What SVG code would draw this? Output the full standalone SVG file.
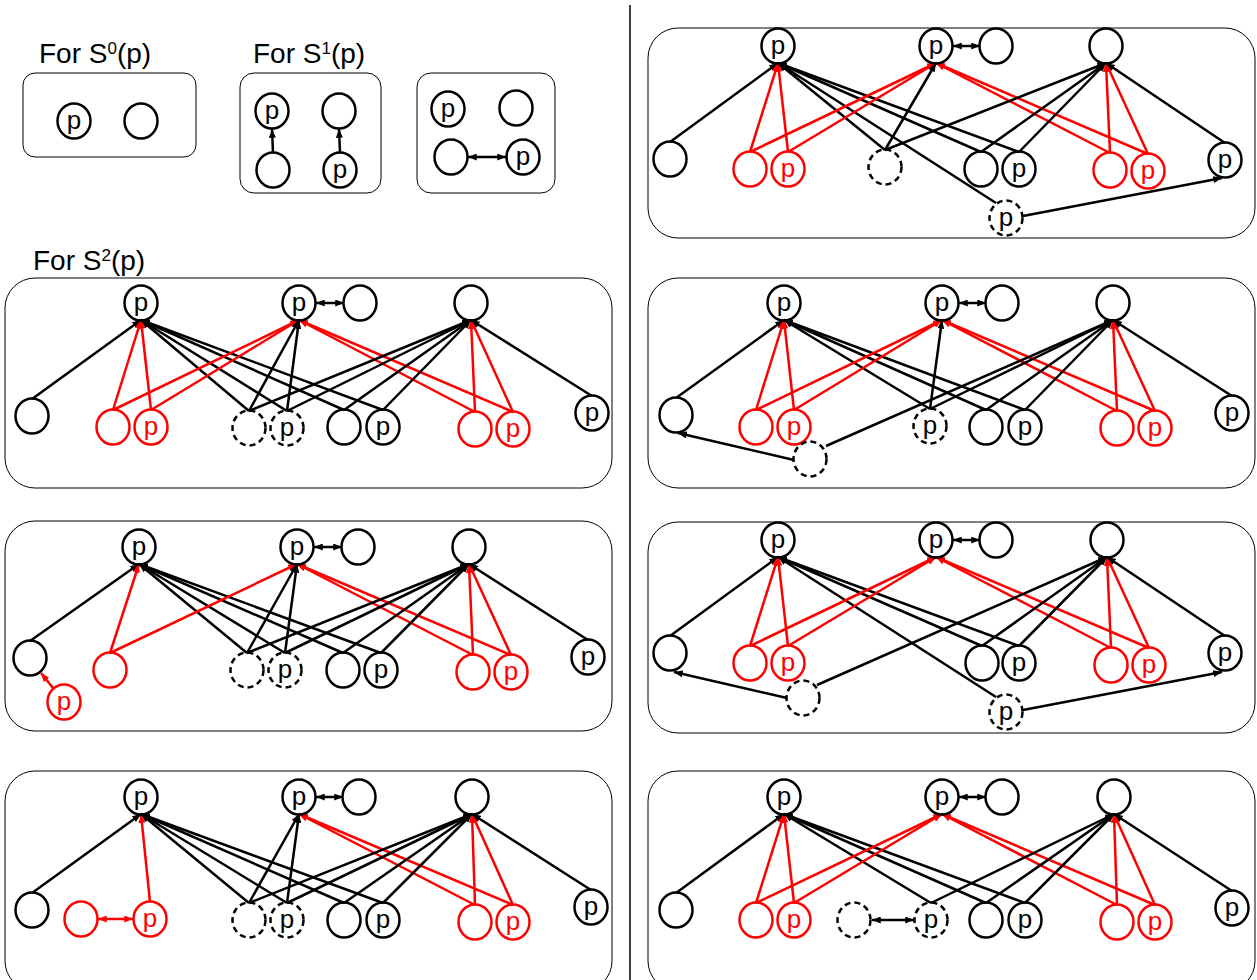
<svg xmlns="http://www.w3.org/2000/svg" width="1257" height="980" viewBox="0 0 1257 980">
<defs>
<marker id="ab" viewBox="0 0 10 8" refX="10" refY="4" markerWidth="9" markerHeight="7" markerUnits="userSpaceOnUse" orient="auto-start-reverse"><path d="M0,0L10,4L0,8z" fill="#000"/></marker>
<marker id="ar" viewBox="0 0 10 8" refX="10" refY="4" markerWidth="9" markerHeight="7" markerUnits="userSpaceOnUse" orient="auto-start-reverse"><path d="M0,0L10,4L0,8z" fill="#f00"/></marker>
</defs>
<style>
.bx{fill:none;stroke:#000;stroke-width:1}
.n{fill:none;stroke:#000;stroke-width:2.5}
.n.r{stroke:#f00}
.n.d{stroke-dasharray:6 4}
.t{font-family:"Liberation Sans",Arial,sans-serif;font-size:26px;text-anchor:middle;fill:#000}
.t.r{fill:#f00}
.h{font-family:"Liberation Sans",Arial,sans-serif;font-size:28px;fill:#000}
.e{stroke:#000;stroke-width:2.5;fill:none;marker-end:url(#ab)}
.e.r{stroke:#f00;marker-end:url(#ar)}
.dbl{marker-start:url(#ab)}
.e.r.dbl{marker-start:url(#ar)}
</style>
<rect width="1257" height="980" fill="#fff"/>
<line x1="630" y1="5" x2="630" y2="980" stroke="#000" stroke-width="1.5"/>

<!-- headings -->
<text class="h" x="39" y="63">For S<tspan font-size="17" dy="-9">0</tspan><tspan dy="9">(p)</tspan></text>
<text class="h" x="253" y="63">For S<tspan font-size="17" dy="-9">1</tspan><tspan dy="9">(p)</tspan></text>
<text class="h" x="33" y="270">For S<tspan font-size="17" dy="-9">2</tspan><tspan dy="9">(p)</tspan></text>

<!-- S0 box -->
<g id="s0">
<rect class="bx" x="23" y="73" width="173" height="84" rx="12"/>
<ellipse class="n" cx="74" cy="121" rx="16.5" ry="17.5"/><text class="t" x="74" y="129">p</text>
<ellipse class="n" cx="141" cy="121" rx="16.5" ry="17.5"/>
</g>

<!-- S1 boxes -->
<g id="s1a">
<rect class="bx" x="240" y="73" width="141" height="120" rx="14"/>
<ellipse class="n" cx="272" cy="111" rx="16.5" ry="17.5"/><text class="t" x="272" y="119">p</text>
<ellipse class="n" cx="339" cy="111" rx="16.5" ry="17.5"/>
<ellipse class="n" cx="273" cy="170" rx="16.5" ry="17.5"/>
<ellipse class="n" cx="340" cy="170" rx="16.5" ry="17.5"/><text class="t" x="340" y="178">p</text>
<line class="e" x1="273" y1="153" x2="272" y2="129"/>
<line class="e" x1="340" y1="153" x2="339" y2="129"/>
</g>
<g id="s1b">
<rect class="bx" x="417" y="73" width="138" height="120" rx="14"/>
<ellipse class="n" cx="448" cy="109" rx="16.5" ry="17.5"/><text class="t" x="448" y="117">p</text>
<ellipse class="n" cx="516" cy="108" rx="16.5" ry="17.5"/>
<ellipse class="n" cx="451" cy="157" rx="16.5" ry="17.5"/>
<ellipse class="n" cx="523" cy="157" rx="16.5" ry="17.5"/><text class="t" x="523" y="165">p</text>
<line class="e dbl" x1="468" y1="157" x2="506" y2="157"/>
</g>

<!-- S2 panel L1 -->
<g id="l1">
<rect class="bx" x="5" y="278" width="607" height="210" rx="30"/>
<g id="l1-edges">
<line class="e" x1="32" y1="399" x2="141" y2="320"/>
<line class="e r" x1="113" y1="410" x2="141" y2="320"/>
<line class="e r" x1="151" y1="410" x2="141" y2="320"/>
<line class="e" x1="249" y1="411" x2="141" y2="320"/>
<line class="e" x1="287" y1="411" x2="141" y2="320"/>
<line class="e" x1="344" y1="410" x2="141" y2="320"/>
<line class="e" x1="383" y1="410" x2="141" y2="320"/>
<line class="e r" x1="113" y1="410" x2="299" y2="320"/>
<line class="e r" x1="151" y1="410" x2="299" y2="320"/>
<line class="e" x1="249" y1="411" x2="299" y2="320"/>
<line class="e" x1="287" y1="411" x2="299" y2="320"/>
<line class="e r" x1="475" y1="412" x2="299" y2="320"/>
<line class="e r" x1="513" y1="412" x2="299" y2="320"/>
<line class="e" x1="249" y1="411" x2="471" y2="320"/>
<line class="e" x1="287" y1="411" x2="471" y2="320"/>
<line class="e" x1="344" y1="410" x2="471" y2="320"/>
<line class="e" x1="383" y1="410" x2="471" y2="320"/>
<line class="e r" x1="475" y1="412" x2="471" y2="320"/>
<line class="e r" x1="513" y1="412" x2="471" y2="320"/>
<line class="e" x1="592" y1="396" x2="471" y2="320"/>
<line class="e dbl" x1="316" y1="303" x2="344" y2="303"/>
</g>
<ellipse class="n" cx="141" cy="303" rx="16.5" ry="17.5"/><text class="t" x="141" y="311">p</text>
<ellipse class="n" cx="299" cy="303" rx="16.5" ry="17.5"/><text class="t" x="299" y="311">p</text>
<ellipse class="n" cx="360" cy="303" rx="16.5" ry="17.5"/>
<ellipse class="n" cx="471" cy="303" rx="16.5" ry="17.5"/>
<ellipse class="n" cx="32" cy="416" rx="16.5" ry="17.5"/>
<ellipse class="n r" cx="113" cy="427" rx="16.5" ry="17.5"/>
<ellipse class="n r" cx="151" cy="427" rx="16.5" ry="17.5"/><text class="t r" x="151" y="435">p</text>
<ellipse class="n d" cx="249" cy="428" rx="16.5" ry="17.5"/>
<ellipse class="n d" cx="287" cy="428" rx="16.5" ry="17.5"/><text class="t" x="287" y="436">p</text>
<ellipse class="n" cx="344" cy="427" rx="16.5" ry="17.5"/>
<ellipse class="n" cx="383" cy="427" rx="16.5" ry="17.5"/><text class="t" x="383" y="435">p</text>
<ellipse class="n r" cx="475" cy="429" rx="16.5" ry="17.5"/>
<ellipse class="n r" cx="513" cy="429" rx="16.5" ry="17.5"/><text class="t r" x="513" y="437">p</text>
<ellipse class="n" cx="592" cy="413" rx="16.5" ry="17.5"/><text class="t" x="592" y="421">p</text>
</g>

<!-- S2 panel L2 -->
<g id="l2">
<rect class="bx" x="5" y="521" width="607" height="210" rx="30"/>
<g id="l2-edges">
<line class="e" x1="30" y1="641" x2="139" y2="564"/>
<line class="e r" x1="110" y1="653" x2="139" y2="564"/>
<line class="e" x1="247" y1="653" x2="139" y2="564"/>
<line class="e" x1="285" y1="653" x2="139" y2="564"/>
<line class="e" x1="343" y1="653" x2="139" y2="564"/>
<line class="e" x1="381" y1="653" x2="139" y2="564"/>
<line class="e r" x1="110" y1="653" x2="297" y2="564"/>
<line class="e" x1="247" y1="653" x2="297" y2="564"/>
<line class="e" x1="285" y1="653" x2="297" y2="564"/>
<line class="e r" x1="473" y1="655" x2="297" y2="564"/>
<line class="e r" x1="511" y1="655" x2="297" y2="564"/>
<line class="e" x1="247" y1="653" x2="469" y2="564"/>
<line class="e" x1="285" y1="653" x2="469" y2="564"/>
<line class="e" x1="343" y1="653" x2="469" y2="564"/>
<line class="e" x1="381" y1="653" x2="469" y2="564"/>
<line class="e r" x1="473" y1="655" x2="469" y2="564"/>
<line class="e r" x1="511" y1="655" x2="469" y2="564"/>
<line class="e" x1="588" y1="640" x2="469" y2="564"/>
<line class="e r" x1="53" y1="688" x2="41" y2="673"/>
<line class="e dbl" x1="314" y1="547" x2="342" y2="547"/>
</g>
<ellipse class="n" cx="139" cy="547" rx="16.5" ry="17.5"/><text class="t" x="139" y="555">p</text>
<ellipse class="n" cx="297" cy="547" rx="16.5" ry="17.5"/><text class="t" x="297" y="555">p</text>
<ellipse class="n" cx="358" cy="547" rx="16.5" ry="17.5"/>
<ellipse class="n" cx="469" cy="547" rx="16.5" ry="17.5"/>
<ellipse class="n" cx="30" cy="658" rx="16.5" ry="17.5"/>
<ellipse class="n r" cx="110" cy="670" rx="16.5" ry="17.5"/>
<ellipse class="n r" cx="64" cy="702" rx="16.5" ry="17.5"/><text class="t r" x="64" y="710">p</text>
<ellipse class="n d" cx="247" cy="670" rx="16.5" ry="17.5"/>
<ellipse class="n d" cx="285" cy="670" rx="16.5" ry="17.5"/><text class="t" x="285" y="678">p</text>
<ellipse class="n" cx="343" cy="670" rx="16.5" ry="17.5"/>
<ellipse class="n" cx="381" cy="670" rx="16.5" ry="17.5"/><text class="t" x="381" y="678">p</text>
<ellipse class="n r" cx="473" cy="672" rx="16.5" ry="17.5"/>
<ellipse class="n r" cx="511" cy="672" rx="16.5" ry="17.5"/><text class="t r" x="511" y="680">p</text>
<ellipse class="n" cx="588" cy="657" rx="16.5" ry="17.5"/><text class="t" x="588" y="665">p</text>
</g>

<!-- S2 panel L3 -->
<g id="l3">
<rect class="bx" x="5" y="771" width="607" height="220" rx="30"/>
<g id="l3-edges">
<line class="e" x1="32" y1="893" x2="141" y2="814"/>
<line class="e r" x1="150" y1="902" x2="141" y2="814"/>
<line class="e" x1="249" y1="903" x2="141" y2="814"/>
<line class="e" x1="287" y1="903" x2="141" y2="814"/>
<line class="e" x1="344" y1="903" x2="141" y2="814"/>
<line class="e" x1="383" y1="903" x2="141" y2="814"/>
<line class="e" x1="249" y1="903" x2="299" y2="814"/>
<line class="e" x1="287" y1="903" x2="299" y2="814"/>
<line class="e r" x1="475" y1="905" x2="299" y2="814"/>
<line class="e r" x1="513" y1="905" x2="299" y2="814"/>
<line class="e" x1="249" y1="903" x2="472" y2="814"/>
<line class="e" x1="287" y1="903" x2="472" y2="814"/>
<line class="e" x1="344" y1="903" x2="472" y2="814"/>
<line class="e" x1="383" y1="903" x2="472" y2="814"/>
<line class="e r" x1="475" y1="905" x2="472" y2="814"/>
<line class="e r" x1="513" y1="905" x2="472" y2="814"/>
<line class="e" x1="591" y1="890" x2="472" y2="814"/>
<line class="e r dbl" x1="98" y1="919" x2="133" y2="919"/>
<line class="e dbl" x1="316" y1="797" x2="343" y2="797"/>
</g>
<ellipse class="n" cx="141" cy="797" rx="16.5" ry="17.5"/><text class="t" x="141" y="805">p</text>
<ellipse class="n" cx="299" cy="797" rx="16.5" ry="17.5"/><text class="t" x="299" y="805">p</text>
<ellipse class="n" cx="359" cy="797" rx="16.5" ry="17.5"/>
<ellipse class="n" cx="472" cy="797" rx="16.5" ry="17.5"/>
<ellipse class="n" cx="32" cy="910" rx="16.5" ry="17.5"/>
<ellipse class="n r" cx="81" cy="919" rx="16.5" ry="17.5"/>
<ellipse class="n r" cx="150" cy="919" rx="16.5" ry="17.5"/><text class="t r" x="150" y="927">p</text>
<ellipse class="n d" cx="249" cy="920" rx="16.5" ry="17.5"/>
<ellipse class="n d" cx="287" cy="920" rx="16.5" ry="17.5"/><text class="t" x="287" y="928">p</text>
<ellipse class="n" cx="344" cy="920" rx="16.5" ry="17.5"/>
<ellipse class="n" cx="383" cy="920" rx="16.5" ry="17.5"/><text class="t" x="383" y="928">p</text>
<ellipse class="n r" cx="475" cy="922" rx="16.5" ry="17.5"/>
<ellipse class="n r" cx="513" cy="922" rx="16.5" ry="17.5"/><text class="t r" x="513" y="930">p</text>
<ellipse class="n" cx="591" cy="907" rx="16.5" ry="17.5"/><text class="t" x="591" y="915">p</text>
</g>

<!-- panel R1 -->
<g id="r1">
<rect class="bx" x="648" y="28" width="607" height="210" rx="30"/>
<g id="r1-edges">
<line class="e" x1="670" y1="142" x2="778" y2="63"/>
<line class="e r" x1="750" y1="152" x2="778" y2="63"/>
<line class="e r" x1="788" y1="152" x2="778" y2="63"/>
<line class="e" x1="885" y1="150" x2="778" y2="63"/>
<line class="e" x1="981" y1="152" x2="778" y2="63"/>
<line class="e" x1="1019" y1="152" x2="778" y2="63"/>
<line class="e" x1="996" y1="203" x2="778" y2="63"/>
<line class="e r" x1="750" y1="152" x2="936" y2="63"/>
<line class="e r" x1="788" y1="152" x2="936" y2="63"/>
<line class="e" x1="885" y1="150" x2="936" y2="63"/>
<line class="e r" x1="1110" y1="153" x2="936" y2="63"/>
<line class="e r" x1="1148" y1="154" x2="936" y2="63"/>
<line class="e" x1="885" y1="150" x2="1106" y2="63"/>
<line class="e" x1="981" y1="152" x2="1106" y2="63"/>
<line class="e" x1="1019" y1="152" x2="1106" y2="63"/>
<line class="e r" x1="1110" y1="153" x2="1106" y2="63"/>
<line class="e r" x1="1148" y1="154" x2="1106" y2="63"/>
<line class="e" x1="1225" y1="143" x2="1106" y2="63"/>
<line class="e" x1="1023" y1="216" x2="1222" y2="178"/>
<line class="e dbl" x1="953" y1="46" x2="980" y2="46"/>
</g>
<ellipse class="n" cx="778" cy="46" rx="16.5" ry="17.5"/><text class="t" x="778" y="54">p</text>
<ellipse class="n" cx="936" cy="46" rx="16.5" ry="17.5"/><text class="t" x="936" y="54">p</text>
<ellipse class="n" cx="996" cy="46" rx="16.5" ry="17.5"/>
<ellipse class="n" cx="1106" cy="46" rx="16.5" ry="17.5"/>
<ellipse class="n" cx="670" cy="159" rx="16.5" ry="17.5"/>
<ellipse class="n r" cx="750" cy="169" rx="16.5" ry="17.5"/>
<ellipse class="n r" cx="788" cy="169" rx="16.5" ry="17.5"/><text class="t r" x="788" y="177">p</text>
<ellipse class="n d" cx="885" cy="167" rx="16.5" ry="17.5"/>
<ellipse class="n" cx="981" cy="169" rx="16.5" ry="17.5"/>
<ellipse class="n" cx="1019" cy="169" rx="16.5" ry="17.5"/><text class="t" x="1019" y="177">p</text>
<ellipse class="n r" cx="1110" cy="170" rx="16.5" ry="17.5"/>
<ellipse class="n r" cx="1148" cy="171" rx="16.5" ry="17.5"/><text class="t r" x="1148" y="179">p</text>
<ellipse class="n" cx="1225" cy="160" rx="16.5" ry="17.5"/><text class="t" x="1225" y="168">p</text>
<ellipse class="n d" cx="1006" cy="218" rx="16.5" ry="17.5"/><text class="t" x="1006" y="226">p</text>
</g>

<!-- panel R2 -->
<g id="r2">
<rect class="bx" x="648" y="278" width="607" height="210" rx="30"/>
<g id="r2-edges">
<line class="e" x1="676" y1="398" x2="784" y2="320"/>
<line class="e r" x1="756" y1="410" x2="784" y2="320"/>
<line class="e r" x1="794" y1="410" x2="784" y2="320"/>
<line class="e" x1="930" y1="409" x2="784" y2="320"/>
<line class="e" x1="986" y1="410" x2="784" y2="320"/>
<line class="e" x1="1025" y1="410" x2="784" y2="320"/>
<line class="e r" x1="756" y1="410" x2="942" y2="320"/>
<line class="e r" x1="794" y1="410" x2="942" y2="320"/>
<line class="e" x1="930" y1="409" x2="942" y2="320"/>
<line class="e r" x1="1117" y1="411" x2="942" y2="320"/>
<line class="e r" x1="1155" y1="411" x2="942" y2="320"/>
<line class="e" x1="930" y1="409" x2="1113" y2="320"/>
<line class="e" x1="826" y1="446" x2="1113" y2="320"/>
<line class="e" x1="986" y1="410" x2="1113" y2="320"/>
<line class="e" x1="1025" y1="410" x2="1113" y2="320"/>
<line class="e r" x1="1117" y1="411" x2="1113" y2="320"/>
<line class="e r" x1="1155" y1="411" x2="1113" y2="320"/>
<line class="e" x1="1232" y1="396" x2="1113" y2="320"/>
<line class="e" x1="794" y1="460" x2="678" y2="433"/>
<line class="e dbl" x1="959" y1="303" x2="986" y2="303"/>
</g>
<ellipse class="n" cx="784" cy="303" rx="16.5" ry="17.5"/><text class="t" x="784" y="311">p</text>
<ellipse class="n" cx="942" cy="303" rx="16.5" ry="17.5"/><text class="t" x="942" y="311">p</text>
<ellipse class="n" cx="1002" cy="303" rx="16.5" ry="17.5"/>
<ellipse class="n" cx="1113" cy="303" rx="16.5" ry="17.5"/>
<ellipse class="n" cx="676" cy="415" rx="16.5" ry="17.5"/>
<ellipse class="n r" cx="756" cy="427" rx="16.5" ry="17.5"/>
<ellipse class="n r" cx="794" cy="427" rx="16.5" ry="17.5"/><text class="t r" x="794" y="435">p</text>
<ellipse class="n d" cx="930" cy="426" rx="16.5" ry="17.5"/><text class="t" x="930" y="434">p</text>
<ellipse class="n" cx="986" cy="427" rx="16.5" ry="17.5"/>
<ellipse class="n" cx="1025" cy="427" rx="16.5" ry="17.5"/><text class="t" x="1025" y="435">p</text>
<ellipse class="n r" cx="1117" cy="428" rx="16.5" ry="17.5"/>
<ellipse class="n r" cx="1155" cy="428" rx="16.5" ry="17.5"/><text class="t r" x="1155" y="436">p</text>
<ellipse class="n" cx="1232" cy="413" rx="16.5" ry="17.5"/><text class="t" x="1232" y="421">p</text>
<ellipse class="n d" cx="810" cy="459" rx="16.5" ry="17.5"/>
</g>

<!-- panel R3 -->
<g id="r3">
<rect class="bx" x="648" y="522" width="607" height="211" rx="30"/>
<g id="r3-edges">
<line class="e" x1="670" y1="636" x2="778" y2="557"/>
<line class="e r" x1="750" y1="646" x2="778" y2="557"/>
<line class="e r" x1="788" y1="646" x2="778" y2="557"/>
<line class="e" x1="982" y1="646" x2="778" y2="557"/>
<line class="e" x1="1019" y1="646" x2="778" y2="557"/>
<line class="e" x1="996" y1="697" x2="778" y2="557"/>
<line class="e r" x1="750" y1="646" x2="936" y2="557"/>
<line class="e r" x1="788" y1="646" x2="936" y2="557"/>
<line class="e r" x1="1111" y1="648" x2="936" y2="557"/>
<line class="e r" x1="1149" y1="648" x2="936" y2="557"/>
<line class="e" x1="817" y1="685" x2="1107" y2="557"/>
<line class="e" x1="982" y1="646" x2="1107" y2="557"/>
<line class="e" x1="1019" y1="646" x2="1107" y2="557"/>
<line class="e r" x1="1111" y1="648" x2="1107" y2="557"/>
<line class="e r" x1="1149" y1="648" x2="1107" y2="557"/>
<line class="e" x1="1225" y1="636" x2="1107" y2="557"/>
<line class="e" x1="787" y1="698" x2="674" y2="672"/>
<line class="e" x1="1023" y1="710" x2="1222" y2="672"/>
<line class="e dbl" x1="953" y1="540" x2="980" y2="540"/>
</g>
<ellipse class="n" cx="778" cy="540" rx="16.5" ry="17.5"/><text class="t" x="778" y="548">p</text>
<ellipse class="n" cx="936" cy="540" rx="16.5" ry="17.5"/><text class="t" x="936" y="548">p</text>
<ellipse class="n" cx="996" cy="540" rx="16.5" ry="17.5"/>
<ellipse class="n" cx="1107" cy="540" rx="16.5" ry="17.5"/>
<ellipse class="n" cx="670" cy="653" rx="16.5" ry="17.5"/>
<ellipse class="n r" cx="750" cy="663" rx="16.5" ry="17.5"/>
<ellipse class="n r" cx="788" cy="663" rx="16.5" ry="17.5"/><text class="t r" x="788" y="671">p</text>
<ellipse class="n" cx="982" cy="663" rx="16.5" ry="17.5"/>
<ellipse class="n" cx="1019" cy="663" rx="16.5" ry="17.5"/><text class="t" x="1019" y="671">p</text>
<ellipse class="n r" cx="1111" cy="665" rx="16.5" ry="17.5"/>
<ellipse class="n r" cx="1149" cy="665" rx="16.5" ry="17.5"/><text class="t r" x="1149" y="673">p</text>
<ellipse class="n" cx="1225" cy="653" rx="16.5" ry="17.5"/><text class="t" x="1225" y="661">p</text>
<ellipse class="n d" cx="803" cy="698" rx="16.5" ry="17.5"/>
<ellipse class="n d" cx="1006" cy="712" rx="16.5" ry="17.5"/><text class="t" x="1006" y="720">p</text>
</g>

<!-- panel R4 -->
<g id="r4">
<rect class="bx" x="648" y="771" width="607" height="220" rx="30"/>
<g id="r4-edges">
<line class="e" x1="676" y1="893" x2="784" y2="814"/>
<line class="e r" x1="756" y1="903" x2="784" y2="814"/>
<line class="e r" x1="794" y1="903" x2="784" y2="814"/>
<line class="e" x1="931" y1="903" x2="784" y2="814"/>
<line class="e" x1="986" y1="903" x2="784" y2="814"/>
<line class="e" x1="1025" y1="903" x2="784" y2="814"/>
<line class="e r" x1="756" y1="903" x2="942" y2="814"/>
<line class="e r" x1="794" y1="903" x2="942" y2="814"/>
<line class="e r" x1="1117" y1="905" x2="942" y2="814"/>
<line class="e r" x1="1155" y1="905" x2="942" y2="814"/>
<line class="e" x1="931" y1="903" x2="1114" y2="814"/>
<line class="e" x1="986" y1="903" x2="1114" y2="814"/>
<line class="e" x1="1025" y1="903" x2="1114" y2="814"/>
<line class="e r" x1="1117" y1="905" x2="1114" y2="814"/>
<line class="e r" x1="1155" y1="905" x2="1114" y2="814"/>
<line class="e" x1="1232" y1="891" x2="1114" y2="814"/>
<line class="e dbl" x1="872" y1="920" x2="914" y2="920"/>
<line class="e dbl" x1="959" y1="797" x2="986" y2="797"/>
</g>
<ellipse class="n" cx="784" cy="797" rx="16.5" ry="17.5"/><text class="t" x="784" y="805">p</text>
<ellipse class="n" cx="942" cy="797" rx="16.5" ry="17.5"/><text class="t" x="942" y="805">p</text>
<ellipse class="n" cx="1002" cy="797" rx="16.5" ry="17.5"/>
<ellipse class="n" cx="1114" cy="797" rx="16.5" ry="17.5"/>
<ellipse class="n" cx="676" cy="910" rx="16.5" ry="17.5"/>
<ellipse class="n r" cx="756" cy="920" rx="16.5" ry="17.5"/>
<ellipse class="n r" cx="794" cy="920" rx="16.5" ry="17.5"/><text class="t r" x="794" y="928">p</text>
<ellipse class="n d" cx="854" cy="920" rx="16.5" ry="17.5"/>
<ellipse class="n d" cx="931" cy="920" rx="16.5" ry="17.5"/><text class="t" x="931" y="928">p</text>
<ellipse class="n" cx="986" cy="920" rx="16.5" ry="17.5"/>
<ellipse class="n" cx="1025" cy="920" rx="16.5" ry="17.5"/><text class="t" x="1025" y="928">p</text>
<ellipse class="n r" cx="1117" cy="922" rx="16.5" ry="17.5"/>
<ellipse class="n r" cx="1155" cy="922" rx="16.5" ry="17.5"/><text class="t r" x="1155" y="930">p</text>
<ellipse class="n" cx="1232" cy="908" rx="16.5" ry="17.5"/><text class="t" x="1232" y="916">p</text>
</g>
</svg>
